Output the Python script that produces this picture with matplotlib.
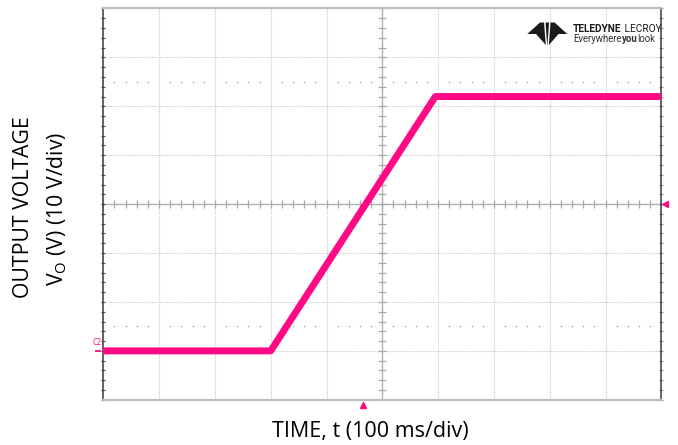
import numpy as np
import matplotlib
matplotlib.use("Agg")
import matplotlib.pyplot as plt
from matplotlib.patches import Polygon
from matplotlib.transforms import ScaledTranslation

# trace breakpoints
time_ms = [0, 300, 595, 1000]
volts = [0, 0, 52, 52]

x_div = 100   # ms per division
y_div = 10    # V per division
x_lim = (0, 1000)
y_lim = (-10, 70)
trig_time = 466
trig_level = 30

TRACE = "#ff0a84"
GRID = "#c4c4c4"
W, H = 678, 445

fig = plt.figure(figsize=(6.78, 4.45), dpi=100)
ax = fig.add_axes([0.1524, 0.1016, 0.823, 0.8793])
ax.set_xlim(*x_lim)
ax.set_ylim(*y_lim)
ax.set_xticks([])
ax.set_yticks([])

# graticule
for xv in np.arange(x_lim[0] + x_div, x_lim[1], x_div):
    if xv != 500:
        ax.axvline(xv, color=GRID, lw=0.8, ls=(0, (1, 1.2)), zorder=1)
for yv in np.arange(y_lim[0] + y_div, y_lim[1], y_div):
    if yv != 30:
        ax.axhline(yv, color=GRID, lw=0.8, ls=(0, (1, 1.2)), zorder=1)

# center cross with minor ticks
ax.axhline(30, color="#b0b0b0", lw=1.0, zorder=1)
ax.axvline(500, color="#b0b0b0", lw=1.0, zorder=1)
minor_x = np.arange(x_lim[0], x_lim[1] + 1, x_div / 5)
minor_y = np.arange(y_lim[0], y_lim[1] + 0.1, y_div / 5)
ax.scatter(minor_x, np.full_like(minor_x, 30.0), marker="|", s=26, color="#a8a8a8", lw=0.9, zorder=1)
ax.scatter(np.full_like(minor_y, 500.0), minor_y, marker="_", s=26, color="#a8a8a8", lw=0.9, zorder=1)

# dotted 2.5-div markers
dots_x = np.array([v for v in minor_x if v % x_div != 0])
for yv in (5, 55):
    ax.scatter(dots_x, np.full_like(dots_x, float(yv)), s=1.2, color="#a0a0a0", lw=0, zorder=1)

# border ticks
ax.scatter(np.full_like(minor_y, x_lim[0]), minor_y, marker="_", s=7, color="#555555", lw=0.9, zorder=2, clip_on=False)
ax.scatter(np.full_like(minor_y, x_lim[1]), minor_y, marker="_", s=7, color="#999999", lw=0.9, zorder=2, clip_on=False)

for side in ("left", "right"):
    ax.spines[side].set_color("#3a3a3a")
    ax.spines[side].set_linewidth(1.1)
for side in ("top", "bottom"):
    ax.spines[side].set_color("#bdbdbd")
    ax.spines[side].set_linewidth(1.6)

# trace
ax.plot(time_ms, volts, color=TRACE, lw=5.0, solid_capstyle="butt", zorder=3)

# channel marker
ax.annotate("C2", xy=(0, 0), xytext=(-7.5, 2.5), textcoords="offset points",
            fontsize=5.5, color=TRACE, ha="left", va="bottom", annotation_clip=False,
            family="DejaVu Sans Mono")
ax.plot([0], [0], marker="_", ms=5, mew=1.3, color=TRACE, clip_on=False, zorder=4,
        transform=ax.transData + ScaledTranslation(-3.5 / 72, 0, fig.dpi_scale_trans))

# trigger markers
ax.plot([trig_time], [y_lim[0]], marker="^", ms=5, color=TRACE, clip_on=False, zorder=4,
        transform=ax.transData + ScaledTranslation(0, -4 / 72, fig.dpi_scale_trans))
ax.plot([x_lim[1]], [trig_level], marker="<", ms=5, color=TRACE, clip_on=False, zorder=4,
        transform=ax.transData + ScaledTranslation(3 / 72, 0, fig.dpi_scale_trans))


# logo
def px(x, y):
    return (x / W, 1 - y / H)


logo_parts = [
    [(527.3, 34), (540, 22.5), (544, 22.5), (545.8, 45), (536, 34)],
    [(545.5, 22.5), (549.1, 22.5), (547.3, 46.5)],
]
logo_parts.append([(1094.6 - x, y) for x, y in logo_parts[0]])
for part in logo_parts:
    fig.patches.append(Polygon([px(*p) for p in part], closed=True, transform=fig.transFigure,
                               facecolor="#1a1a1a", edgecolor="none"))

renderer = fig.canvas.get_renderer()


def word_row(words, x0, y_base, width, color):
    texts = [fig.text(*px(x0, y_base), w, fontsize=10, fontweight=wt, family="Roboto",
                      color=color, va="baseline") for w, wt in words]
    total = sum(t.get_window_extent(renderer).width for t in texts)
    size = 10 * width / total
    xpos = x0
    for t in texts:
        t.set_fontsize(size)
        t.set_position(px(xpos, y_base))
        xpos += t.get_window_extent(renderer).width


word_row([("TELEDYNE", "bold"), (" LECROY", "normal")], 573, 32.5, 88, "#1a1a1a")
word_row([("Everywhere", "normal"), ("you", "bold"), ("look", "normal")], 573, 42, 83, "#333333")

# axis labels
fig.text(*px(370, 432), "TIME, t (100 ms/div)", fontsize=15.5, family="Open Sans",
         ha="center", va="center", color="black")
fig.text(*px(24, 207), "OUTPUT VOLTAGE", fontsize=15.3, family="Open Sans", rotation=90,
         ha="center", va="center", color="black")
fig.text(*px(57, 209), r"V$_\mathregular{O}$ (V) (10 V/div)", fontsize=15.3, family="Open Sans",
         rotation=90, ha="center", va="center", color="black")

fig.savefig("out.png", dpi=100)
